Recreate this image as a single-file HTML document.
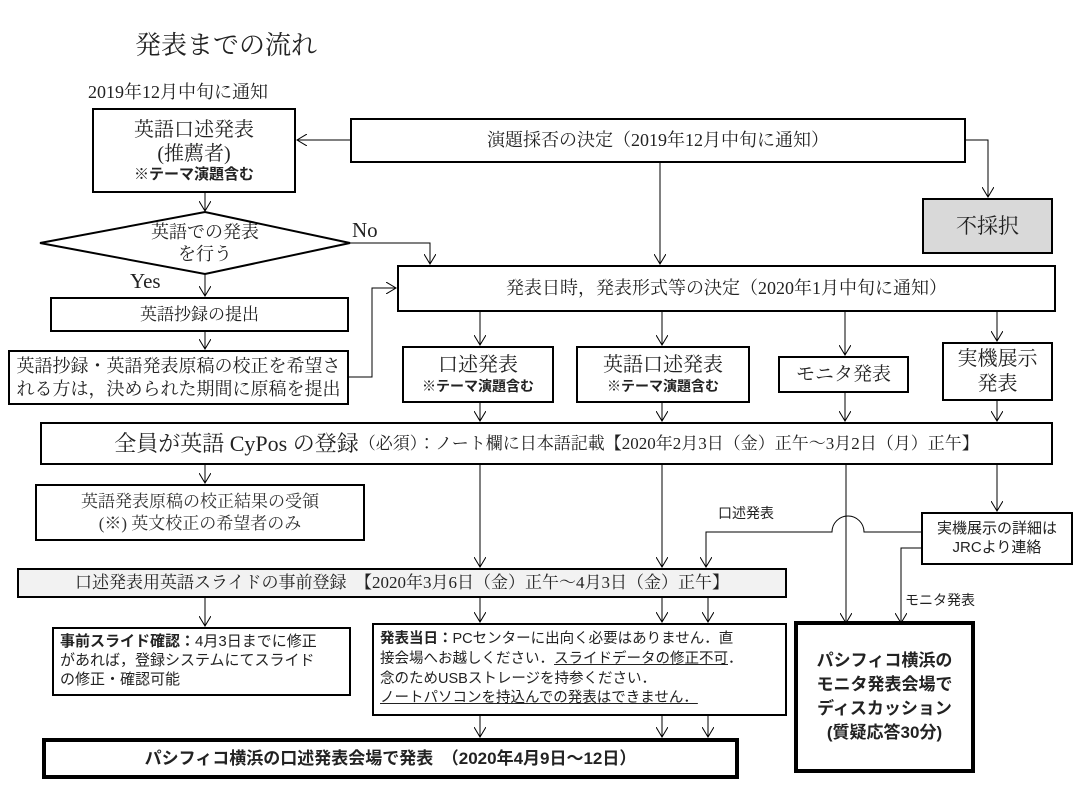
<!DOCTYPE html>
<html><head><meta charset="utf-8"><style>
body{margin:0;width:1082px;height:788px;background:#fff;position:relative;overflow:hidden;font-family:"Liberation Serif","Noto Serif CJK JP",serif;color:#222}
.b{position:absolute;box-sizing:border-box;border:2px solid #000;background:#fff;display:flex;flex-direction:column;align-items:center;justify-content:center;text-align:center;line-height:1.25}
.t{position:absolute;white-space:nowrap}
.s{font-family:"Liberation Sans","Noto Sans CJK JP",sans-serif;font-weight:bold}
svg{position:absolute;left:0;top:0}
</style></head><body>
<svg width="1082" height="788" viewBox="0 0 1082 788">
<defs><marker id="a" markerWidth="12" markerHeight="12" refX="10" refY="6" orient="auto" markerUnits="userSpaceOnUse"><path d="M0,0 L10,6 L0,12" fill="none" stroke="#000" stroke-width="1"/></marker></defs>
<g fill="none" stroke="#000" stroke-width="1" marker-end="url(#a)">
<path d="M350,140 H297"/>
<path d="M660,162 V264"/>
<path d="M965,140 H988 V197"/>
<path d="M205,192 V211"/>
<path d="M350,243 H430 V264"/>
<path d="M205,274 V296"/>
<path d="M205,331 V349"/>
<path d="M348,377 H372 V288 H396"/>
<path d="M480,311 V345"/>
<path d="M662,311 V345"/>
<path d="M845,311 V355"/>
<path d="M997,311 V341"/>
<path d="M480,402 V421"/>
<path d="M662,402 V421"/>
<path d="M845,392 V421"/>
<path d="M997,400 V421"/>
<path d="M205,464 V483"/>
<path d="M480,464 V567"/>
<path d="M662,464 V567"/>
<path d="M846,464 V623"/>
<path d="M997,464 V511"/>
<path d="M921,532 H864 A11,11 0 0 0 832,532 H706 V567"/>
<path d="M921,548 H901 V623"/>
<path d="M205,597 V626"/>
<path d="M480,597 V622"/>
<path d="M662,597 V622"/>
<path d="M708,597 V622"/>
<path d="M480,715 V737"/>
<path d="M662,715 V737"/>
<path d="M708,715 V737"/>
</g>
<polygon points="40,243 205,212 350,243 205,274" fill="#fff" stroke="#000" stroke-width="2"/>
</svg>
<div class="t" style="left:135px;top:25px;font-size:26px">発表までの流れ</div>
<div class="t" style="left:88px;top:78px;font-size:18px">2019年12月中旬に通知</div>
<div class="b" style="left:92px;top:108px;width:204px;height:85px;font-size:20px;line-height:1.2">英語口述発表<br>(推薦者)<span class="s" style="font-size:15px">※テーマ演題含む</span></div>
<div class="b" style="left:350px;top:118px;width:616px;height:45px;font-size:18px">演題採否の決定（2019年12月中旬に通知）</div>
<div class="b" style="left:922px;top:198px;width:131px;height:56px;font-size:21px;background:#d9d9d9">不採択</div>
<div class="t" style="left:130px;top:221px;width:150px;text-align:center;font-size:18px;line-height:22px">英語での発表<br>を行う</div>
<div class="t" style="left:352px;top:218px;font-size:21px">No</div>
<div class="t" style="left:130px;top:269px;font-size:21px">Yes</div>
<div class="b" style="left:50px;top:297px;width:299px;height:35px;font-size:17px">英語抄録の提出</div>
<div class="b" style="left:8px;top:350px;width:341px;height:55px;font-size:18px">英語抄録・英語発表原稿の校正を希望さ<br>れる方は，決められた期間に原稿を提出</div>
<div class="b" style="left:397px;top:265px;width:659px;height:47px;font-size:18px">発表日時，発表形式等の決定（2020年1月中旬に通知）</div>
<div class="b" style="left:402px;top:346px;width:152px;height:57px;font-size:20px">口述発表<span class="s" style="font-size:14px">※テーマ演題含む</span></div>
<div class="b" style="left:576px;top:346px;width:174px;height:57px;font-size:20px">英語口述発表<span class="s" style="font-size:14px">※テーマ演題含む</span></div>
<div class="b" style="left:778px;top:356px;width:131px;height:37px;font-size:19px">モニタ発表</div>
<div class="b" style="left:942px;top:342px;width:111px;height:59px;font-size:20px">実機展示<br>発表</div>
<div class="b" style="left:40px;top:422px;width:1013px;height:43px;font-size:17px;flex-direction:row"><span style="font-size:22px">全員が英語 CyPos の登録</span>（必須）：ノート欄に日本語記載【2020年2月3日（金）正午～3月2日（月）正午】</div>
<div class="b" style="left:35px;top:484px;width:330px;height:57px;font-size:17px;color:#333">英語発表原稿の校正結果の受領<br>(※) 英文校正の希望者のみ</div>
<div class="b" style="left:17px;top:568px;width:770px;height:30px;font-size:17px;background:#f2f2f2">口述発表用英語スライドの事前登録　【2020年3月6日（金）正午～4月3日（金）正午】</div>
<div class="t" style="left:718px;top:503px;font-size:14px;font-family:'Liberation Sans','Noto Sans CJK JP',sans-serif">口述発表</div>
<div class="b" style="left:921px;top:512px;width:152px;height:53px;font-size:15px;font-family:'Liberation Sans','Noto Sans CJK JP',sans-serif">実機展示の詳細は<br>JRCより連絡</div>
<div class="t" style="left:905px;top:590px;font-size:14px;font-family:'Liberation Sans','Noto Sans CJK JP',sans-serif">モニタ発表</div>
<div class="b" style="left:52px;top:627px;width:299px;height:69px;font-size:15px;align-items:flex-start;text-align:left;padding-left:6px;font-family:'Liberation Sans','Noto Sans CJK JP',sans-serif"><div><b>事前スライド確認：</b>4月3日までに修正<br>があれば，登録システムにてスライド<br>の修正・確認可能</div></div>
<div class="b" style="left:372px;top:623px;width:415px;height:93px;font-size:14.5px;align-items:flex-start;text-align:left;padding-left:6px;line-height:1.35;font-family:'Liberation Sans','Noto Sans CJK JP',sans-serif"><div><b>発表当日：</b>PCセンターに出向く必要はありません．直<br>接会場へお越しください．<u>スライドデータの修正不可</u>．<br>念のためUSBストレージを持参ください．<br><u>ノートパソコンを持込んでの発表はできません．</u></div></div>
<div class="b" style="left:42px;top:738px;width:697px;height:41px;border-width:4px;font-size:17px;font-weight:bold;font-family:'Liberation Sans','Noto Sans CJK JP',sans-serif">パシフィコ横浜の口述発表会場で発表　（2020年4月9日～12日）</div>
<div class="b" style="left:794px;top:621px;width:181px;height:152px;border-width:4px;font-size:17px;font-weight:bold;line-height:1.4;font-family:'Liberation Sans','Noto Sans CJK JP',sans-serif">パシフィコ横浜の<br>モニタ発表会場で<br>ディスカッション<br>(質疑応答30分)</div>
</body></html>
